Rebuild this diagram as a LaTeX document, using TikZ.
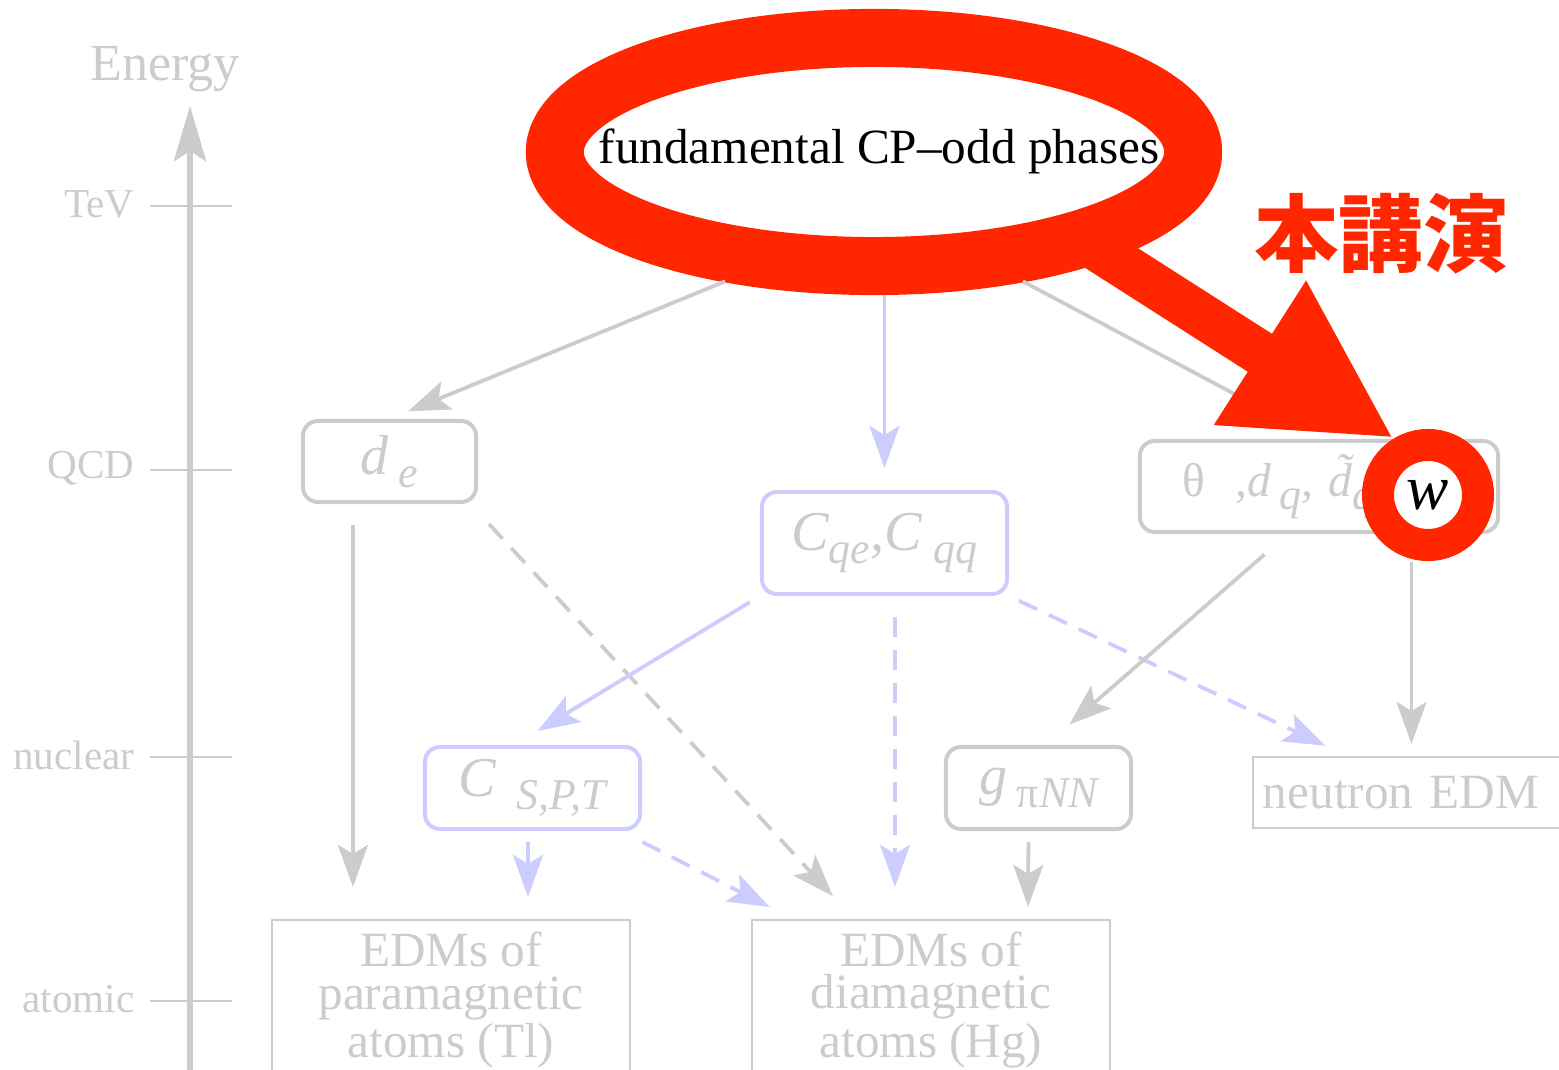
\documentclass[tikz,border=0pt]{standalone}
\usepackage{fontspec}
\setmainfont{Liberation Serif}
\newfontfamily\cjk{Noto Sans CJK JP}
\usepackage{tikz}
\usetikzlibrary{arrows.meta,shapes.geometric}
\definecolor{EDMGray}{HTML}{CCCCCC}
\definecolor{EDMBlue}{HTML}{CCCCFF}
\definecolor{EDMRed}{HTML}{FF2600}
\newcommand{\lowsub}[1]{\raisebox{-0.13cm}{\fontsize{12.5}{12.5}\selectfont\itshape #1}}

\tikzset{
  gbox/.style={draw=EDMGray, line width=0.04cm, rounded corners=0.15cm, text=EDMGray,
    inner sep=0, font=\fontsize{16}{16}\selectfont\itshape},
  bbox/.style={gbox, draw=EDMBlue},
  atombox/.style={draw=EDMGray, line width=0.02cm, text=EDMGray, inner sep=0,
    align=center, font=\fontsize{14}{12}\selectfont},
  garrow/.style={draw=EDMGray, line width=0.038cm,
    -{Stealth[length=0.42cm,width=0.3cm,inset=0.09cm]}},
  barrow/.style={garrow, draw=EDMBlue},
  dashes/.style={dash pattern=on 0.2cm off 0.13cm},
  tickline/.style={draw=EDMGray, line width=0.02cm},
  lvlabel/.style={text=EDMGray, anchor=east, inner sep=0, font=\fontsize{11.7}{11.7}\selectfont}
}

\begin{document}
\begin{tikzpicture}[x=0.01cm,y=-0.01cm]
\path[use as bounding box] (0,0) rectangle (1559,1070);
\clip (0,0) rectangle (1559,1070);

% energy axis
\draw[EDMGray, line width=0.06cm, -{Stealth[length=0.55cm,width=0.32cm,inset=0.1cm]}] (190,1075) -- (190,106);
\node[text=EDMGray, font=\fontsize{14.8}{14.8}\selectfont] (energy) at (165,69) {Energy};
\foreach \y/\lab/\nm in {206/TeV/tev, 470/QCD/qcd, 757/nuclear/nuc, 1001/atomic/atom} {
  \draw[tickline] (150,\y) -- (232,\y);
  \node[lvlabel] (\nm) at (135,\y-2) {\lab};
}

% boxes
\node[ellipse, draw=EDMRed, line width=0.58cm, fill=white, minimum width=6.38cm,
  minimum height=2.28cm, inner sep=0] (fund) at (874,152) {};
\node[font=\fontsize{14}{14}\selectfont] (fundtext) at (879,151) {fundamental CP--odd phases};
\node[gbox, minimum width=1.73cm, minimum height=0.81cm] (de) at (389.5,461.5) {d\,\lowsub{e}};
\node[bbox, minimum width=2.45cm, minimum height=1.02cm] (cqe) at (884.5,543) {C\lowsub{qe},C\hspace{0.12cm}\lowsub{qq}};
\node[gbox, minimum width=3.58cm, minimum height=0.91cm, text width=2.72cm, inner xsep=0.43cm,
  align=left, font=\fontsize{13.5}{13.5}\selectfont] (theta) at (1319,486.5) {θ\hspace{0.3cm}\textit{,d\,\lowsub{q}, \~{d}\lowsub{q}}};
\node[bbox, minimum width=2.15cm, minimum height=0.82cm] (cspt) at (532.5,788) {C\hspace{0.2cm}\lowsub{S,P,T}};
\node[gbox, minimum width=1.85cm, minimum height=0.82cm] (gpi) at (1038.5,788) {g\,\lowsub{\upshape π\itshape NN}};
\node[atombox, minimum width=3.17cm, minimum height=0.71cm, text width=2.97cm, inner xsep=0.1cm,
  align=left] (nedm) at (1411.5,792.5) {neutron EDM};
\node[atombox, minimum width=3.58cm, minimum height=1.6cm] (para) at (451,1000) {EDMs of\\paramagnetic\\atoms (Tl)};
\node[atombox, minimum width=3.58cm, minimum height=1.6cm] (dia) at (931,1000) {EDMs of\\diamagnetic\\atoms (Hg)};

% connectors
\draw[garrow, shorten >=0.2cm] (fund.221) -- (de.north);
\draw[barrow, shorten >=0.22cm] (fund.south -| cqe.north) -- (cqe.north);
\draw[garrow, shorten >=0.2cm] (fund.319) -- (theta.north);
\draw[garrow, shorten <=0.21cm, shorten >=0.32cm] ([xshift=-0.365cm]de.south) -- ([xshift=-0.98cm]para.north);
\draw[garrow, dashes, shorten <=0.27cm, shorten >=0.31cm] ([xshift=-0.075cm]de.south east) -- ([xshift=-0.77cm]dia.north);
\draw[barrow, shorten <=0.12cm, shorten >=0.27cm] (cqe.south west) -- ([xshift=-0.18cm]cspt.north);
\draw[barrow, dashes, shorten <=0.21cm, shorten >=0.32cm] ([xshift=0.105cm]cqe.south) -- ([xshift=-0.36cm]dia.north);
\draw[barrow, dashes, shorten <=0.11cm, shorten >=0.24cm] (cqe.south east) -- ([xshift=0.95cm]nedm.north west);
\draw[garrow, shorten <=0.31cm, shorten >=0.31cm] ([xshift=-0.31cm]theta.south) -- ([xshift=0.075cm]gpi.north);
\draw[garrow, shorten <=0.28cm, shorten >=0.12cm] (nedm.north |- theta.south) -- (nedm.north);
\draw[barrow, shorten <=0.11cm, shorten >=0.22cm] ([xshift=-0.045cm]cspt.south) -- ([xshift=0.77cm]para.north);
\draw[barrow, dashes, shorten <=0.24cm, shorten >=0.26cm] ([xshift=-0.21cm]cspt.south east) -- ([xshift=0.42cm]dia.north west);
\draw[garrow, shorten <=0.11cm, shorten >=0.12cm] ([xshift=-0.1cm]gpi.south) -- ([xshift=0.97cm]dia.north);

% highlight
\node[circle, draw=EDMRed, line width=0.32cm, fill=white, minimum size=1.0cm, inner sep=0,
  font=\fontsize{18}{18}\selectfont\itshape] (wc) at (1428,495) {w};
\draw[EDMRed, line width=0.45cm, shorten <=-0.3cm, -{Triangle[length=1.59cm,width=1.59cm]}] (fund.336) -- (wc.121);
\node[text=EDMRed, font=\cjk\bfseries\fontsize{24}{24}\selectfont] (talk) at (1381,234) {本講演};
\end{tikzpicture}
\end{document}
